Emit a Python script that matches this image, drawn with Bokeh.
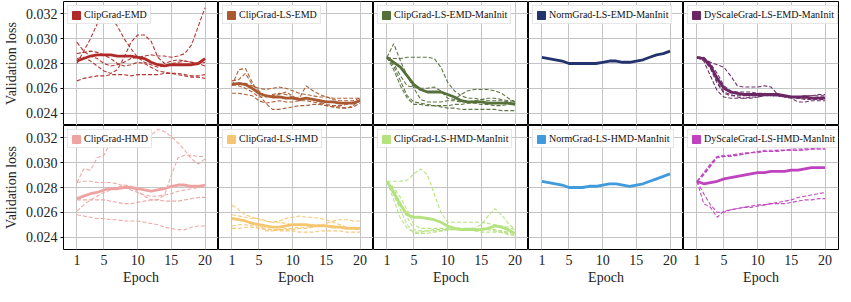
from bokeh.plotting import figure
from bokeh.layouts import gridplot
from bokeh.models import Range1d, FixedTicker, PrintfTickFormatter, Legend, LegendItem
from bokeh.embed import file_html
from bokeh.resources import INLINE

epochs = list(range(1, 21))
x_ticks = [1, 5, 10, 15, 20]
y_ticks = [0.024, 0.026, 0.028, 0.030, 0.032]

names = ["ClipGrad-EMD", "ClipGrad-LS-EMD", "ClipGrad-LS-EMD-ManInit",
         "NormGrad-LS-EMD-ManInit", "DyScaleGrad-LS-EMD-ManInit",
         "ClipGrad-HMD", "ClipGrad-LS-HMD", "ClipGrad-LS-HMD-ManInit",
         "NormGrad-LS-HMD-ManInit", "DyScaleGrad-LS-HMD-ManInit"]
colors = ["#b02a2a", "#a9582f", "#56703a", "#22336e", "#6a2763",
          "#eea3a3", "#f5c670", "#b3e27e", "#3f9bdb", "#bf42bf"]

# ---- mean curves ----
mean_clip_emd = [0.0282, 0.0284, 0.0286, 0.0287, 0.0287, 0.0287, 0.0286, 0.0286, 0.0286, 0.0285,
                 0.0284, 0.0281, 0.0279, 0.0278, 0.0279, 0.0279, 0.0279, 0.0279, 0.0280, 0.0284]
mean_clip_ls_emd = [0.0263, 0.0264, 0.0263, 0.0260, 0.0256, 0.0254, 0.0253, 0.0253, 0.0252, 0.0252,
                    0.0251, 0.0252, 0.0251, 0.0250, 0.0249, 0.0249, 0.0248, 0.0248, 0.0248, 0.0250]
mean_clip_ls_emd_mi = [0.0285, 0.0281, 0.0277, 0.0270, 0.0263, 0.0259, 0.0257, 0.0257, 0.0257, 0.0255,
                       0.0253, 0.0250, 0.0249, 0.0249, 0.0249, 0.0248, 0.0248, 0.0248, 0.0248, 0.0247]
mean_norm_ls_emd_mi = [0.0285, 0.0284, 0.0283, 0.0282, 0.0280, 0.0280, 0.0280, 0.0280, 0.0280, 0.0281,
                       0.0282, 0.0282, 0.0281, 0.0281, 0.0282, 0.0283, 0.0285, 0.0287, 0.0288, 0.0290]
mean_dys_ls_emd_mi = [0.0285, 0.0284, 0.0278, 0.0268, 0.0260, 0.0257, 0.0256, 0.0255, 0.0255, 0.0255,
                      0.0255, 0.0255, 0.0255, 0.0254, 0.0253, 0.0253, 0.0253, 0.0252, 0.0252, 0.0252]
mean_clip_hmd = [0.0271, 0.0273, 0.0275, 0.0276, 0.0278, 0.0279, 0.0279, 0.0280, 0.0280, 0.0279,
                 0.0278, 0.0277, 0.0278, 0.0279, 0.0281, 0.0282, 0.0282, 0.0281, 0.0281, 0.0282]
mean_clip_ls_hmd = [0.0255, 0.0254, 0.0253, 0.0251, 0.0250, 0.0249, 0.0248, 0.0248, 0.0249, 0.0250,
                    0.0250, 0.0250, 0.0249, 0.0249, 0.0249, 0.0248, 0.0248, 0.0247, 0.0247, 0.0247]
mean_clip_ls_hmd_mi = [0.0285, 0.0276, 0.0266, 0.0258, 0.0256, 0.0256, 0.0255, 0.0254, 0.0252, 0.0249,
                       0.0247, 0.0246, 0.0246, 0.0246, 0.0246, 0.0247, 0.0249, 0.0248, 0.0246, 0.0243]
mean_norm_ls_hmd_mi = [0.0285, 0.0284, 0.0283, 0.0282, 0.0280, 0.0280, 0.0280, 0.0281, 0.0281, 0.0282,
                       0.0283, 0.0283, 0.0282, 0.0281, 0.0282, 0.0283, 0.0285, 0.0287, 0.0289, 0.0291]
mean_dys_ls_hmd_mi = [0.0285, 0.0283, 0.0284, 0.0285, 0.0287, 0.0288, 0.0289, 0.0290, 0.0291, 0.0292,
                      0.0292, 0.0293, 0.0293, 0.0293, 0.0294, 0.0294, 0.0295, 0.0296, 0.0296, 0.0296]

# ---- individual runs (dashed) ----
runs_clip_emd = [
    [0.0280, 0.0290, 0.0300, 0.0312, 0.0320, 0.0318, 0.0310, 0.0300, 0.0292, 0.0285,
     0.0281, 0.0279, 0.0277, 0.0278, 0.0280, 0.0281, 0.0282, 0.0281, 0.0280, 0.0278],
    [0.0284, 0.0285, 0.0282, 0.0278, 0.0274, 0.0272, 0.0275, 0.0285, 0.0297, 0.0303,
     0.0303, 0.0298, 0.0285, 0.0280, 0.0282, 0.0283, 0.0282, 0.0281, 0.0280, 0.0281],
    [0.0297, 0.0290, 0.0286, 0.0284, 0.0280, 0.0278, 0.0279, 0.0281, 0.0284, 0.0285,
     0.0286, 0.0287, 0.0286, 0.0286, 0.0285, 0.0286, 0.0288, 0.0295, 0.0310, 0.0325],
    [0.0288, 0.0289, 0.0290, 0.0289, 0.0287, 0.0284, 0.0280, 0.0278, 0.0279, 0.0281,
     0.0280, 0.0277, 0.0274, 0.0273, 0.0272, 0.0271, 0.0270, 0.0269, 0.0269, 0.0268],
    [0.0266, 0.0268, 0.0269, 0.0270, 0.0270, 0.0271, 0.0271, 0.0271, 0.0270, 0.0271,
     0.0271, 0.0271, 0.0271, 0.0272, 0.0272, 0.0272, 0.0271, 0.0270, 0.0270, 0.0271],
]
runs_clip_ls_emd = [
    [0.0262, 0.0275, 0.0276, 0.0265, 0.0255, 0.0248, 0.0243, 0.0243, 0.0244, 0.0245,
     0.0246, 0.0246, 0.0247, 0.0247, 0.0246, 0.0245, 0.0244, 0.0244, 0.0246, 0.0251],
    [0.0266, 0.0267, 0.0272, 0.0263, 0.0258, 0.0253, 0.0255, 0.0256, 0.0255, 0.0253,
     0.0252, 0.0262, 0.0258, 0.0255, 0.0253, 0.0251, 0.0250, 0.0250, 0.0250, 0.0252],
    [0.0264, 0.0264, 0.0264, 0.0262, 0.0260, 0.0259, 0.0260, 0.0261, 0.0260, 0.0258,
     0.0256, 0.0255, 0.0254, 0.0253, 0.0253, 0.0252, 0.0252, 0.0252, 0.0252, 0.0252],
    [0.0256, 0.0256, 0.0255, 0.0254, 0.0250, 0.0248, 0.0249, 0.0250, 0.0249, 0.0249,
     0.0250, 0.0250, 0.0249, 0.0248, 0.0246, 0.0245, 0.0245, 0.0244, 0.0245, 0.0248],
    [0.0263, 0.0262, 0.0260, 0.0257, 0.0253, 0.0253, 0.0254, 0.0255, 0.0257, 0.0254,
     0.0250, 0.0252, 0.0251, 0.0249, 0.0247, 0.0246, 0.0246, 0.0247, 0.0249, 0.0250],
]
runs_clip_ls_emd_mi = [
    [0.0285, 0.0296, 0.0282, 0.0270, 0.0260, 0.0251, 0.0249, 0.0249, 0.0249, 0.0250,
     0.0250, 0.0249, 0.0249, 0.0250, 0.0251, 0.0252, 0.0252, 0.0251, 0.0250, 0.0250],
    [0.0285, 0.0284, 0.0284, 0.0285, 0.0285, 0.0285, 0.0285, 0.0284, 0.0277, 0.0265,
     0.0258, 0.0254, 0.0252, 0.0252, 0.0251, 0.0250, 0.0250, 0.0250, 0.0249, 0.0249],
    [0.0285, 0.0280, 0.0270, 0.0262, 0.0261, 0.0260, 0.0260, 0.0261, 0.0258, 0.0252,
     0.0251, 0.0255, 0.0258, 0.0259, 0.0259, 0.0259, 0.0258, 0.0256, 0.0252, 0.0249],
    [0.0285, 0.0275, 0.0262, 0.0252, 0.0247, 0.0247, 0.0246, 0.0246, 0.0246, 0.0246,
     0.0247, 0.0247, 0.0248, 0.0248, 0.0247, 0.0247, 0.0246, 0.0246, 0.0247, 0.0249],
    [0.0285, 0.0278, 0.0266, 0.0254, 0.0249, 0.0248, 0.0247, 0.0246, 0.0245, 0.0244,
     0.0244, 0.0243, 0.0243, 0.0243, 0.0243, 0.0243, 0.0243, 0.0242, 0.0242, 0.0242],
]
runs_norm_ls_emd_mi = []
runs_dys_ls_emd_mi = [
    [0.0285, 0.0284, 0.0281, 0.0279, 0.0277, 0.0270, 0.0262, 0.0261, 0.0261, 0.0261,
     0.0262, 0.0261, 0.0255, 0.0253, 0.0253, 0.0252, 0.0251, 0.0251, 0.0251, 0.0251],
    [0.0285, 0.0283, 0.0276, 0.0264, 0.0256, 0.0254, 0.0254, 0.0254, 0.0254, 0.0255,
     0.0255, 0.0254, 0.0254, 0.0253, 0.0253, 0.0253, 0.0254, 0.0254, 0.0254, 0.0254],
    [0.0285, 0.0282, 0.0270, 0.0258, 0.0253, 0.0252, 0.0252, 0.0252, 0.0253, 0.0253,
     0.0254, 0.0254, 0.0254, 0.0253, 0.0252, 0.0249, 0.0249, 0.0250, 0.0250, 0.0250],
    [0.0285, 0.0284, 0.0277, 0.0265, 0.0257, 0.0255, 0.0253, 0.0252, 0.0252, 0.0253,
     0.0254, 0.0254, 0.0254, 0.0254, 0.0253, 0.0252, 0.0252, 0.0252, 0.0253, 0.0253],
    [0.0285, 0.0285, 0.0280, 0.0272, 0.0262, 0.0258, 0.0257, 0.0257, 0.0257, 0.0256,
     0.0256, 0.0255, 0.0254, 0.0254, 0.0253, 0.0253, 0.0254, 0.0254, 0.0255, 0.0255],
]
runs_clip_hmd = [
    [0.0284, 0.0295, 0.0294, 0.0304, 0.0306, 0.0317, 0.0320, 0.0322, 0.0322, 0.0322,
     0.0322, 0.0322, 0.0327, 0.0325, 0.0321, 0.0316, 0.0310, 0.0303, 0.0299, 0.0303],
    [0.0261, 0.0266, 0.0270, 0.0273, 0.0276, 0.0278, 0.0280, 0.0282, 0.0281, 0.0277,
     0.0273, 0.0270, 0.0270, 0.0274, 0.0290, 0.0304, 0.0306, 0.0306, 0.0305, 0.0305],
    [0.0284, 0.0285, 0.0285, 0.0284, 0.0284, 0.0284, 0.0283, 0.0281, 0.0278, 0.0276,
     0.0274, 0.0273, 0.0273, 0.0274, 0.0275, 0.0277, 0.0278, 0.0279, 0.0280, 0.0281],
    [0.0270, 0.0270, 0.0270, 0.0270, 0.0270, 0.0269, 0.0268, 0.0267, 0.0267, 0.0268,
     0.0269, 0.0270, 0.0270, 0.0269, 0.0269, 0.0269, 0.0270, 0.0271, 0.0272, 0.0272],
    [0.0258, 0.0257, 0.0256, 0.0255, 0.0255, 0.0254, 0.0254, 0.0253, 0.0253, 0.0253,
     0.0252, 0.0251, 0.0250, 0.0248, 0.0247, 0.0246, 0.0246, 0.0248, 0.0249, 0.0249],
]
runs_clip_ls_hmd = [
    [0.0266, 0.0262, 0.0258, 0.0256, 0.0254, 0.0253, 0.0252, 0.0252, 0.0251, 0.0250,
     0.0250, 0.0250, 0.0250, 0.0250, 0.0249, 0.0249, 0.0248, 0.0248, 0.0248, 0.0248],
    [0.0258, 0.0257, 0.0256, 0.0255, 0.0255, 0.0253, 0.0252, 0.0253, 0.0255, 0.0256,
     0.0257, 0.0256, 0.0256, 0.0255, 0.0254, 0.0252, 0.0250, 0.0248, 0.0247, 0.0246],
    [0.0249, 0.0250, 0.0250, 0.0249, 0.0248, 0.0247, 0.0246, 0.0246, 0.0246, 0.0246,
     0.0247, 0.0247, 0.0248, 0.0249, 0.0251, 0.0253, 0.0254, 0.0254, 0.0253, 0.0253],
    [0.0247, 0.0247, 0.0248, 0.0248, 0.0247, 0.0246, 0.0246, 0.0245, 0.0245, 0.0245,
     0.0244, 0.0244, 0.0244, 0.0245, 0.0245, 0.0245, 0.0245, 0.0244, 0.0244, 0.0244],
    [0.0255, 0.0254, 0.0253, 0.0252, 0.0250, 0.0245, 0.0245, 0.0246, 0.0247, 0.0247,
     0.0248, 0.0248, 0.0249, 0.0249, 0.0249, 0.0249, 0.0248, 0.0248, 0.0247, 0.0245],
]
runs_clip_ls_hmd_mi = [
    [0.0285, 0.0285, 0.0285, 0.0286, 0.0291, 0.0295, 0.0290, 0.0275, 0.0260, 0.0252,
     0.0252, 0.0252, 0.0252, 0.0252, 0.0252, 0.0251, 0.0250, 0.0249, 0.0248, 0.0246],
    [0.0285, 0.0278, 0.0268, 0.0256, 0.0246, 0.0245, 0.0245, 0.0246, 0.0246, 0.0246,
     0.0246, 0.0246, 0.0247, 0.0247, 0.0250, 0.0257, 0.0263, 0.0258, 0.0251, 0.0246],
    [0.0285, 0.0270, 0.0255, 0.0247, 0.0244, 0.0244, 0.0245, 0.0245, 0.0245, 0.0246,
     0.0246, 0.0246, 0.0246, 0.0245, 0.0244, 0.0244, 0.0244, 0.0244, 0.0243, 0.0242],
    [0.0285, 0.0274, 0.0262, 0.0250, 0.0243, 0.0243, 0.0243, 0.0244, 0.0245, 0.0246,
     0.0247, 0.0247, 0.0246, 0.0246, 0.0247, 0.0247, 0.0246, 0.0245, 0.0244, 0.0243],
    [0.0285, 0.0280, 0.0272, 0.0262, 0.0250, 0.0247, 0.0247, 0.0247, 0.0247, 0.0247,
     0.0247, 0.0247, 0.0247, 0.0247, 0.0246, 0.0246, 0.0245, 0.0244, 0.0242, 0.0241],
]
runs_norm_ls_hmd_mi = []
runs_dys_ls_hmd_mi = [
    [0.0285, 0.0291, 0.0298, 0.0305, 0.0305, 0.0306, 0.0306, 0.0307, 0.0308, 0.0309,
     0.0309, 0.0309, 0.0310, 0.0310, 0.0310, 0.0310, 0.0311, 0.0311, 0.0311, 0.0311],
    [0.0285, 0.0290, 0.0297, 0.0304, 0.0305, 0.0305, 0.0306, 0.0307, 0.0308, 0.0308,
     0.0309, 0.0309, 0.0309, 0.0310, 0.0310, 0.0310, 0.0310, 0.0311, 0.0311, 0.0311],
    [0.0285, 0.0292, 0.0299, 0.0305, 0.0306, 0.0306, 0.0307, 0.0308, 0.0308, 0.0309,
     0.0310, 0.0310, 0.0310, 0.0310, 0.0311, 0.0311, 0.0311, 0.0311, 0.0312, 0.0312],
    [0.0285, 0.0267, 0.0264, 0.0256, 0.0261, 0.0262, 0.0263, 0.0264, 0.0264, 0.0265,
     0.0266, 0.0267, 0.0268, 0.0269, 0.0270, 0.0272, 0.0273, 0.0274, 0.0275, 0.0276],
    [0.0285, 0.0275, 0.0266, 0.0260, 0.0260, 0.0262, 0.0263, 0.0264, 0.0265, 0.0266,
     0.0266, 0.0267, 0.0267, 0.0267, 0.0268, 0.0269, 0.0270, 0.0270, 0.0271, 0.0271],
]

means = [mean_clip_emd, mean_clip_ls_emd, mean_clip_ls_emd_mi, mean_norm_ls_emd_mi, mean_dys_ls_emd_mi,
         mean_clip_hmd, mean_clip_ls_hmd, mean_clip_ls_hmd_mi, mean_norm_ls_hmd_mi, mean_dys_ls_hmd_mi]
runs = [runs_clip_emd, runs_clip_ls_emd, runs_clip_ls_emd_mi, runs_norm_ls_emd_mi, runs_dys_ls_emd_mi,
        runs_clip_hmd, runs_clip_ls_hmd, runs_clip_ls_hmd_mi, runs_norm_ls_hmd_mi, runs_dys_ls_hmd_mi]

FONT = "'Liberation Serif'"
FW = 155
FH = 124
LEFT = 56
BOTTOM = 37
NAN = float("nan")

figs = []
for i in range(10):
    row, col = divmod(i, 5)
    p = figure(frame_width=FW, frame_height=FH,
               x_range=Range1d(-1, 22), y_range=Range1d(0.023, 0.033),
               output_backend="svg", toolbar_location=None,
               min_border_left=LEFT if col == 0 else 0,
               min_border_right=1 if col == 4 else 0,
               min_border_top=1 if row == 0 else 0,
               min_border_bottom=BOTTOM if row == 1 else 0)
    p.outline_line_color = "black"
    p.outline_line_width = 1
    p.outline_line_alpha = 1
    p.background_fill_color = "white"
    p.border_fill_color = "white"

    p.xaxis.ticker = FixedTicker(ticks=x_ticks)
    p.yaxis.ticker = FixedTicker(ticks=y_ticks)
    p.xgrid.ticker = FixedTicker(ticks=x_ticks)
    p.ygrid.ticker = FixedTicker(ticks=y_ticks)
    for g in (p.xgrid, p.ygrid):
        g.grid_line_color = "#c4c4c4"
        g.grid_line_width = 1

    for ax in (p.xaxis, p.yaxis):
        ax.axis_line_color = None
        ax.minor_tick_line_color = None
        ax.major_label_text_font = FONT
        ax.major_label_text_font_size = "14px"
        ax.major_label_text_color = "#222222"
        ax.axis_label_text_font = FONT
        ax.axis_label_text_font_size = "14px"
        ax.axis_label_text_font_style = "normal"
        ax.axis_label_text_color = "#222222"

    if row == 1:
        p.xaxis.axis_label = "Epoch"
        p.xaxis.major_tick_out = 0
        p.xaxis.major_tick_in = 0
        p.xaxis.major_label_standoff = 5
        p.xaxis.axis_label_standoff = 2
    else:
        p.xaxis.visible = False
    if col == 0:
        p.yaxis.axis_label = "Validation loss"
        p.yaxis.formatter = PrintfTickFormatter(format="%.3f")
        p.yaxis.major_tick_out = 3
        p.yaxis.major_tick_in = 0
        p.yaxis.major_tick_line_color = "black"
        p.yaxis.major_label_standoff = 3
        p.yaxis.axis_label_standoff = 4
    else:
        p.yaxis.visible = False

    c = colors[i]
    for r in runs[i]:
        p.line(epochs, r, line_color=c, line_width=1.1, line_dash="4 2", line_alpha=0.95)
    p.line(epochs, means[i], line_color=c, line_width=2.8)

    # legend swatch (no visible mark in the plot area)
    sw = p.quad(left=[NAN], right=[NAN], top=[NAN], bottom=[NAN], fill_color=c, line_color=c)
    leg = Legend(items=[LegendItem(label=names[i], renderers=[sw])],
                 location="top_left",
                 label_text_font=FONT, label_text_font_size="10px",
                 label_text_color="#111111",
                 glyph_width=10, glyph_height=10, label_height=10,
                 label_standoff=3, padding=3, margin=4, spacing=0,
                 border_line_color="#d0d0d0", border_line_width=1,
                 background_fill_color="white", background_fill_alpha=0.85)
    p.add_layout(leg)
    figs.append(p)

grid = gridplot([figs[:5], figs[5:]], toolbar_location=None)
open("out.html", "w").write(file_html(grid, INLINE))
